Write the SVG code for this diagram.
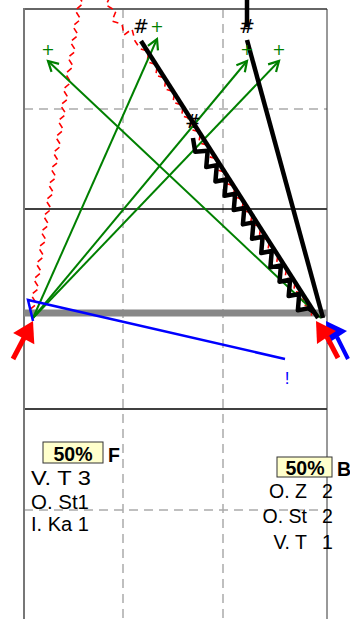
<svg xmlns="http://www.w3.org/2000/svg" xmlns:xlink="http://www.w3.org/1999/xlink" width="350" height="619" viewBox="0 0 350 619">
<style>
.dash{stroke:#aaa;stroke-width:1.5;stroke-dasharray:9 6;fill:none}
.rd{fill:none;stroke:#f00;stroke-width:1.6;stroke-dasharray:6 4.63;stroke-dashoffset:8.3}
.gr{fill:none;stroke:#008000;stroke-width:2;marker-end:url(#ga)}
.bk{fill:none;stroke:#000;stroke-width:4.5;stroke-linejoin:round;stroke-linecap:butt}
.plus{font-family:"DejaVu Sans",sans-serif;font-size:16px;fill:#008000;text-anchor:middle}
.hash{font-family:"DejaVu Sans",sans-serif;font-size:19px;fill:#000;text-anchor:middle}
.t{font-family:"Liberation Sans",Arial,sans-serif;font-size:19.5px;fill:#000}
.tb{font-family:"Liberation Sans",Arial,sans-serif;font-size:19.5px;font-weight:bold;fill:#000}
.box{fill:#ffffcc;stroke:#333;stroke-width:1}
</style>
<defs>
<marker id="ga" markerUnits="userSpaceOnUse" markerWidth="16" markerHeight="16" viewBox="-12 -8 16 16" refX="0" refY="0" orient="auto" overflow="visible">
<path d="M-10,-5.5 L0,0 L-10,5.5" fill="none" stroke="#008000" stroke-width="2.2"/>
</marker>
<polyline id="zz" points="0,3.5 8,-3.5 16,3.5 24,-3.5 32,3.5 40,-3.5 48,3.5 56,-3.5 64,3.5 72,-3.5 80,3.5 88,-3.5 96,3.5 104,-3.5 112,3.5 120,-3.5 128,3.5 136,-3.5 144,3.5 152,-3.5 160,3.5 168,-3.5 176,3.5 184,-3.5 192,3.5 200,-3.5 208,3.5 216,-3.5 224,3.5 232,-3.5 240,3.5 248,-3.5 256,3.5 264,-3.5 272,3.5 280,-3.5 288,3.5 296,-3.5 304,3.5 312,-3.5 320,3.5"/>
</defs>

<g id="field">
<line class="dash" x1="123" y1="9" x2="123" y2="619"/>
<line class="dash" x1="223" y1="9" x2="223" y2="619"/>
<line class="dash" x1="24" y1="109" x2="327" y2="109"/>
<line class="dash" x1="24" y1="510" x2="327" y2="510"/>
<line x1="24" y1="209" x2="327" y2="209" stroke="#000" stroke-width="1.3"/>
<line x1="24" y1="409" x2="327" y2="409" stroke="#000" stroke-width="1.3"/>
<line x1="24" y1="9" x2="327" y2="9" stroke="#666" stroke-width="2"/>
<line x1="24" y1="8" x2="24" y2="619" stroke="#777" stroke-width="2"/>
<line x1="327" y1="9" x2="327" y2="619" stroke="#333" stroke-width="1"/>
<line x1="24" y1="313" x2="327" y2="313" stroke="#888" stroke-width="7"/>
</g>

<g id="connectors">
<use xlink:href="#zz" class="rd" transform="translate(81,-5) rotate(98.8)"/>
<polyline class="rd" points="111,-5 106,5 116,11 112,21 122,24 124,35 132,29 135,41 139,47"/>
<use xlink:href="#zz" class="rd" transform="translate(141.5,46.5) rotate(57.4)"/>

<line class="gr" x1="33" y1="318" x2="157" y2="39"/>
<line class="gr" x1="33" y1="318" x2="247" y2="61"/>
<line class="gr" x1="33" y1="318" x2="279" y2="61"/>
<line class="gr" x1="321" y1="318" x2="48" y2="61"/>

<line class="bk" x1="141" y1="41" x2="318" y2="318"/>
<line class="bk" x1="247" y1="0" x2="247" y2="27"/>
<line class="bk" x1="247" y1="40" x2="323" y2="318"/>
<polyline class="bk" transform="translate(200.5,134) rotate(57.4)" points="-0.7,8.5 12,14 18,3 31,13 35,3 48,13 52,3 65,13 69,3 82,13 86,3 99,13 103,3 116,13 120,3 133,13 137,3 150,13 154,3 167,13 171,3 184,13 188,3 201,13 205,3 212,0"/>

<polyline points="33,321 28,300 285,359" fill="none" stroke="#00f" stroke-width="2.5"/>

<line x1="348" y1="359" x2="337" y2="337" stroke="#00f" stroke-width="4"/>
<polygon points="326,321 347,331 327,344" fill="#00f"/>

<line x1="13" y1="359" x2="24" y2="338" stroke="#f00" stroke-width="5"/>
<polygon points="33,321 34.3,344.3 13.1,333.1" fill="#f00"/>
<line x1="338" y1="358" x2="327" y2="337" stroke="#f00" stroke-width="5"/>
<polygon points="316,321 336,331 317,344" fill="#f00"/>
</g>

<g id="marks">
<text class="hash" x="141" y="33">#</text>
<text class="hash" x="193" y="128">#</text>
<text class="hash" x="247" y="33">#</text>
<text class="plus" x="48" y="55">+</text>
<text class="plus" x="157" y="32">+</text>
<text class="plus" x="247" y="55">+</text>
<text class="plus" x="279" y="55">+</text>
<text x="287" y="384" font-family="Liberation Sans, Arial, sans-serif" font-size="17" fill="#00f" text-anchor="middle">!</text>
</g>

<g id="node-F">
<rect class="box" x="43" y="442" width="60" height="21"/>
<text class="tb" x="73" y="461" text-anchor="middle">50%</text>
<text class="tb" x="108" y="462">F</text>
<text class="t" x="31" y="485" textLength="60" lengthAdjust="spacingAndGlyphs">V. T 3</text>
<text class="t" x="31" y="509" textLength="58" lengthAdjust="spacingAndGlyphs">O. St1</text>
<text class="t" x="31" y="531" textLength="58" lengthAdjust="spacingAndGlyphs">I. Ka 1</text>
</g>

<g id="node-B">
<rect class="box" x="277" y="457" width="55" height="20"/>
<text class="tb" x="305" y="475" text-anchor="middle">50%</text>
<text class="tb" x="337" y="476">B</text>
<text class="t" x="307" y="498" text-anchor="end">O. Z</text>
<text class="t" x="322" y="498">2</text>
<text class="t" x="307" y="523" text-anchor="end">O. St</text>
<text class="t" x="322" y="523">2</text>
<text class="t" x="307" y="549" text-anchor="end">V. T</text>
<text class="t" x="322" y="549">1</text>
</g>
</svg>
